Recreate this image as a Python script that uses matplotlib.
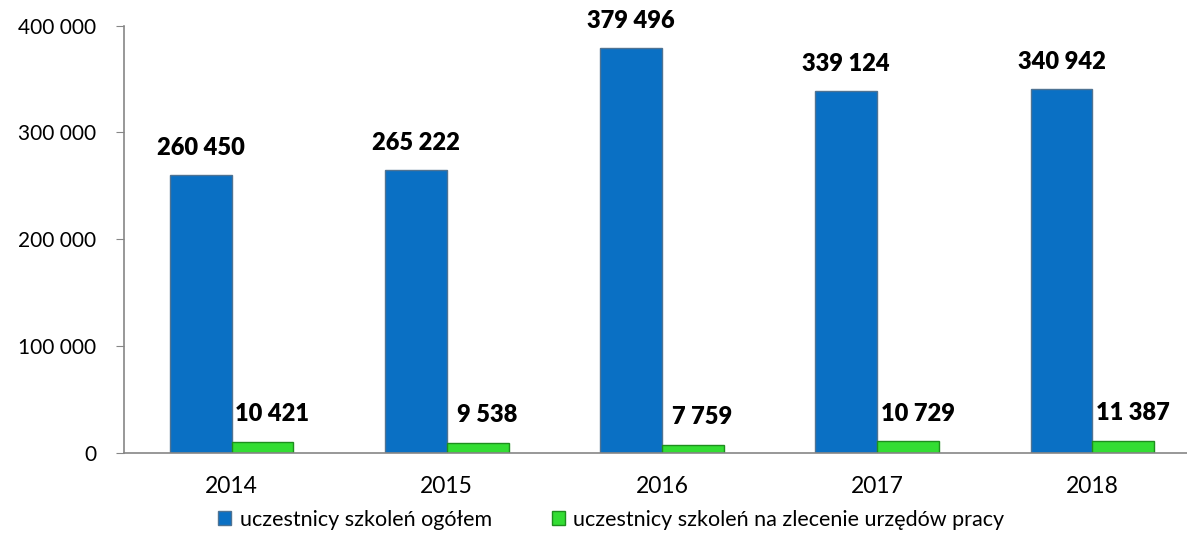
import numpy as np
import matplotlib.pyplot as plt

years = ['2014', '2015', '2016', '2017', '2018']
ogolem = [260450, 265222, 379496, 339124, 340942]
zlecenie = [10421, 9538, 7759, 10729, 11387]
yticks = [0, 100000, 200000, 300000, 400000]


def fmt(v):
    return f"{v:,}".replace(",", " ")


plt.rcParams['font.family'] = ['Lato', 'DejaVu Sans']

fig = plt.figure(figsize=(11.87, 5.34), dpi=100)
ax = fig.add_axes([0.1045, 0.152, 0.8955, 0.8])

x = np.arange(len(years))
w = 0.287
b1 = ax.bar(x - w / 2, ogolem, w, color='#0A70C4', edgecolor='#4F7393',
            linewidth=1.0, label='uczestnicy szkoleń ogółem')
b2 = ax.bar(x + w / 2, zlecenie, w, color='#33DD33', edgecolor='#1E8E1E',
            linewidth=1.0, label='uczestnicy szkoleń na zlecenie urzędów pracy')

for xi, v in zip(x, ogolem):
    ax.annotate(fmt(v), (xi - w / 2, v), xytext=(0, 11), textcoords='offset points',
                ha='center', va='bottom', fontsize=17, fontweight='heavy')
for xi, v in zip(x, zlecenie):
    ax.annotate(fmt(v), (xi + w / 2, v), xytext=(7, 12), textcoords='offset points',
                ha='center', va='bottom', fontsize=17, fontweight='heavy')

ax.set_ylim(0, 400000)
ax.set_xlim(-0.5, 4.44)
ax.set_yticks(yticks)
ax.set_yticklabels([fmt(t) for t in yticks], fontsize=15)
ax.set_xticks(x)
ax.set_xticklabels(years, fontsize=16.5)
ax.tick_params(axis='x', length=0, pad=17)
ax.tick_params(axis='y', length=6, color='#868686', pad=14)

for s in ['top', 'right']:
    ax.spines[s].set_visible(False)
for s in ['left', 'bottom']:
    ax.spines[s].set_color('#868686')
    ax.spines[s].set_linewidth(1.2)

fig.legend(handles=[b1, b2], loc='lower center', bbox_to_anchor=(0.515, -0.028),
           ncol=2, frameon=False, fontsize=15.5, handlelength=0.6, handleheight=0.6,
           handletextpad=0.4, columnspacing=2.8)

fig.savefig('out.png', dpi=100)
